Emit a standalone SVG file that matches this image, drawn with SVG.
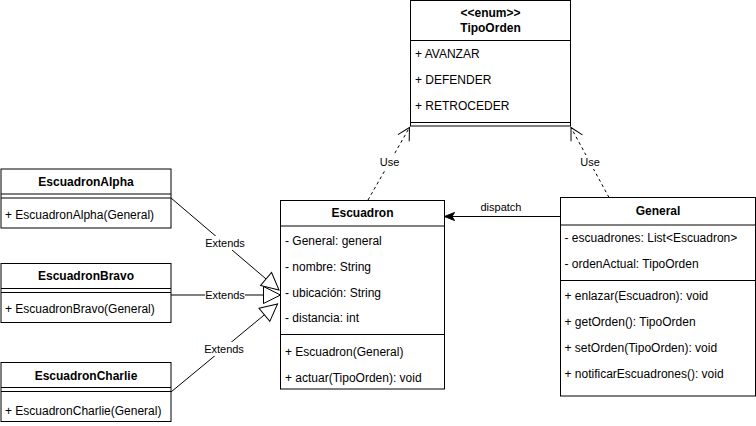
<svg xmlns="http://www.w3.org/2000/svg" width="756" height="426" viewBox="0 0 756 426">
<style>
.box{fill:#fff;stroke:#000;stroke-width:1}
.ln{stroke:#000;stroke-width:1;fill:none}
.h{font-family:"Liberation Sans",Arial,sans-serif;font-size:12px;font-weight:bold;text-anchor:middle;fill:#000}
.f{font-family:"Liberation Sans",Arial,sans-serif;font-size:12px;fill:#000}
.l{font-family:"Liberation Sans",Arial,sans-serif;font-size:11px;text-anchor:middle;fill:#000}
.bg{fill:#fff;stroke:none}
.dash{stroke-dasharray:3 3}
</style>
<defs>
<marker id="open" markerUnits="userSpaceOnUse" viewBox="-14 -8 16 16" refX="0" refY="0" markerWidth="16" markerHeight="16" orient="auto" overflow="visible">
<path d="M-12,-6.5 L0,0 L-12,6.5" fill="none" stroke="#000" stroke-width="1"/>
</marker>
<marker id="tri" markerUnits="userSpaceOnUse" viewBox="-18 -10 20 20" refX="0" refY="0" markerWidth="20" markerHeight="20" orient="auto" overflow="visible">
<path d="M-17,-8.5 L0,0 L-17,8.5 Z" fill="#fff" stroke="#000" stroke-width="1"/>
</marker>
<marker id="block" markerUnits="userSpaceOnUse" viewBox="-12 -6 14 12" refX="0" refY="0" markerWidth="14" markerHeight="12" orient="auto" overflow="visible">
<path d="M0,0 L-10,-4 L-7.5,0 L-10,4 Z" fill="#000" stroke="#000" stroke-width="1"/>
</marker>
</defs>
<rect width="756" height="426" fill="#fff"/>

<g id="connectors">
<line class="ln dash" x1="368" y1="200" x2="409.5" y2="127.5" marker-end="url(#open)"/>
<rect class="bg" x="378" y="155" width="22" height="14"/>
<text class="l" x="389.5" y="166">Use</text>
<line class="ln dash" x1="609" y1="197.5" x2="571" y2="127.5" marker-end="url(#open)"/>
<rect class="bg" x="579" y="155" width="22" height="14"/>
<text class="l" x="590" y="166">Use</text>
<line class="ln" x1="560" y1="216.5" x2="444.5" y2="216.5" marker-end="url(#block)"/>
<text class="l" x="501" y="211">dispatch</text>
<line class="ln" x1="171" y1="198" x2="279" y2="290" marker-end="url(#tri)"/>
<rect class="bg" x="205" y="236" width="40" height="14"/>
<text class="l" x="225" y="247">Extends</text>
<line class="ln" x1="171" y1="295" x2="280.5" y2="295" marker-end="url(#tri)"/>
<rect class="bg" x="205" y="288" width="40" height="14"/>
<text class="l" x="225" y="299">Extends</text>
<line class="ln" x1="171" y1="392" x2="277.5" y2="304" marker-end="url(#tri)"/>
<rect class="bg" x="204" y="342" width="40" height="14"/>
<text class="l" x="224" y="353">Extends</text>
</g>

<g id="TipoOrden">
<rect class="box" x="410.5" y="0.5" width="160" height="125.5"/>
<line class="ln" x1="410.5" y1="40.5" x2="570.5" y2="40.5"/>
<line class="ln" x1="410.5" y1="122.5" x2="570.5" y2="122.5"/>
<text class="h" x="490.5" y="17">&lt;&lt;enum&gt;&gt;</text>
<text class="h" x="490.5" y="32">TipoOrden</text>
<text class="f" x="415" y="58">+ AVANZAR</text>
<text class="f" x="415" y="84">+ DEFENDER</text>
<text class="f" x="415" y="110">+ RETROCEDER</text>
</g>

<g id="Escuadron">
<rect class="box" x="280.5" y="200.5" width="164" height="188.5"/>
<line class="ln" x1="280.5" y1="226" x2="444.5" y2="226"/>
<line class="ln" x1="280.5" y1="334.5" x2="444.5" y2="334.5"/>
<text class="h" x="362.5" y="217">Escuadron</text>
<text class="f" x="285" y="245">- General: general</text>
<text class="f" x="285" y="271">- nombre: String</text>
<text class="f" x="285" y="297">- ubicación: String</text>
<text class="f" x="285" y="322">- distancia: int</text>
<text class="f" x="285" y="356">+ Escuadron(General)</text>
<text class="f" x="285" y="382">+ actuar(TipoOrden): void</text>
</g>

<g id="General">
<rect class="box" x="560.5" y="197.5" width="195" height="198.5"/>
<line class="ln" x1="560.5" y1="225" x2="755.5" y2="225"/>
<line class="ln" x1="560.5" y1="280.5" x2="755.5" y2="280.5"/>
<text class="h" x="658" y="215">General</text>
<text class="f" x="564.5" y="241.5">- escuadrones: List&lt;Escuadron&gt;</text>
<text class="f" x="564.5" y="267.5">- ordenActual: TipoOrden</text>
<text class="f" x="564.5" y="300">+ enlazar(Escuadron): void</text>
<text class="f" x="564.5" y="326">+ getOrden(): TipoOrden</text>
<text class="f" x="564.5" y="352">+ setOrden(TipoOrden): void</text>
<text class="f" x="564.5" y="378">+ notificarEscuadrones(): void</text>
</g>

<g id="EscuadronAlpha">
<rect class="box" x="1" y="169" width="170" height="59"/>
<line class="ln" x1="1" y1="194" x2="171" y2="194"/>
<line class="ln" x1="1" y1="198" x2="171" y2="198"/>
<text class="h" x="86" y="186">EscuadronAlpha</text>
<text class="f" x="5" y="219">+ EscuadronAlpha(General)</text>
</g>

<g id="EscuadronBravo">
<rect class="box" x="1" y="263.5" width="170" height="59"/>
<line class="ln" x1="1" y1="288.5" x2="171" y2="288.5"/>
<line class="ln" x1="1" y1="292.5" x2="171" y2="292.5"/>
<text class="h" x="86" y="280">EscuadronBravo</text>
<text class="f" x="5" y="313">+ EscuadronBravo(General)</text>
</g>

<g id="EscuadronCharlie">
<rect class="box" x="1" y="362.5" width="170" height="59"/>
<line class="ln" x1="1" y1="387.5" x2="171" y2="387.5"/>
<line class="ln" x1="1" y1="391.5" x2="171" y2="391.5"/>
<text class="h" x="86" y="380">EscuadronCharlie</text>
<text class="f" x="5" y="414.5">+ EscuadronCharlie(General)</text>
</g>
</svg>
